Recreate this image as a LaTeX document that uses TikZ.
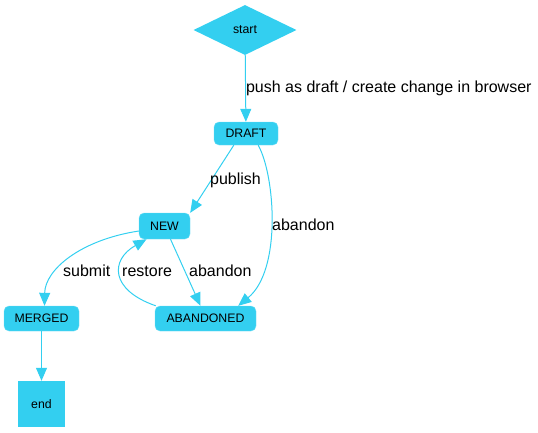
\documentclass[tikz,border=0pt]{standalone}
\usepackage{fontspec}
\setmainfont{Liberation Sans}
\usetikzlibrary{shapes.geometric,arrows.meta}
\definecolor{cy}{RGB}{51,207,240}
\tikzset{
  x=1pt,y=-1pt,
  state/.style={fill=cy,draw=cy!70!white,rounded corners=5pt,inner sep=0pt,font=\fontsize{12.3}{14}\selectfont},
  edge/.style={draw=cy,line width=1pt,-{Triangle[length=13pt,width=11pt]}},
  lbl/.style={font=\fontsize{16}{18}\selectfont,inner sep=0pt}
}
\begin{document}
\begin{tikzpicture}
\useasboundingbox (0,0) rectangle (538,432);
\node[diamond,fill=cy,inner sep=0pt,minimum width=103pt,minimum height=50pt,aspect=2,font=\fontsize{12.3}{14}\selectfont] (start) at (245,30) {start};
\node[state,minimum width=64pt,minimum height=23pt] (draft) at (246,133.5) {DRAFT};
\node[state,minimum width=51pt,minimum height=26pt] (new) at (164.5,226) {NEW};
\node[state,minimum width=75pt,minimum height=25pt] (merged) at (41.5,318.5) {MERGED};
\node[state,minimum width=101pt,minimum height=25pt] (aband) at (205.5,318.5) {ABANDONED};
\node[fill=cy,inner sep=0pt,minimum width=47pt,minimum height=46pt,font=\fontsize{12.3}{14}\selectfont] (end) at (41.5,404) {end};

\draw[edge] (start) -- (draft) node[lbl,midway,anchor=west] (l1) {push as draft / create change in browser};
\draw[edge] (draft.south west) ++(20,0) coordinate (d1) (d1) -- (new.north east) coordinate (n1);
\node[lbl,anchor=west] (l2) at (210,180) {publish};
\draw[edge] (draft.south east) ++(-20,0) coordinate (d2) (d2) .. controls (275,175) and (282,270) .. ([xshift=-18pt]aband.north east);
\node[lbl,anchor=west] (l3) at (272,225) {abandon};
\draw[edge] (new.west) ++(0,5) coordinate (n2) (n2) .. controls (80,240) and (45,270) .. ([xshift=3pt]merged.north);
\node[lbl,anchor=west] (l4) at (63,271) {submit};
\draw[edge] ([xshift=6pt]new.south) -- ([xshift=-5pt]aband.north);
\node[lbl,anchor=west] (l5) at (189,271) {abandon};
\draw[edge] ([xshift=1pt]aband.north west) .. controls (110,290) and (110,260) .. ([xshift=-18pt]new.south);
\node[lbl,anchor=west] (l6) at (122,271) {restore};
\draw[edge] (merged) -- (end);
\end{tikzpicture}
\end{document}
